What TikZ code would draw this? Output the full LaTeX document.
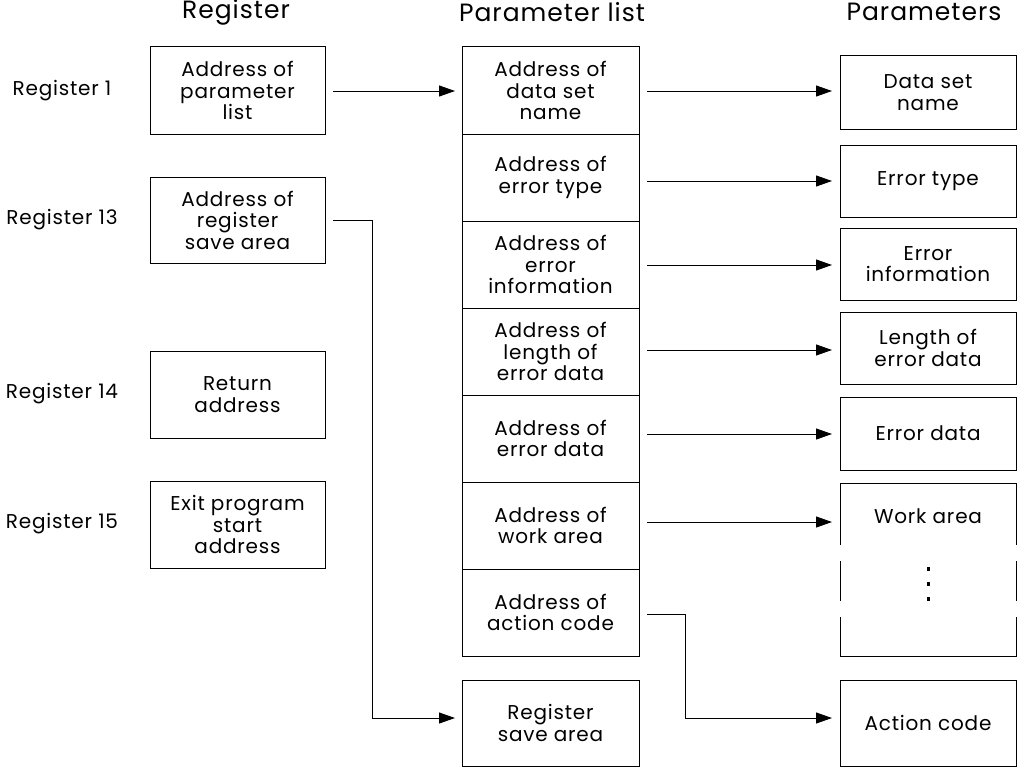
\documentclass[tikz,border=0pt]{standalone}
\usepackage{fontspec}
\setmainfont{Poppins}[LetterSpace=4]
\usetikzlibrary{arrows.meta}
\begin{document}
\begin{tikzpicture}[x=1pt,y=-1pt,
  bx/.style={draw,line width=1pt,align=center,font=\fontsize{20}{21.5}\selectfont,inner sep=0pt},
  lbl/.style={font=\fontsize{20}{21.5}\selectfont},
  hd/.style={font=\fontsize{25}{27}\selectfont},
  ar/.style={line width=1pt,-{Triangle[length=16pt,width=11pt]}}]
\useasboundingbox (0,0) rectangle (1024,768);
\newcommand\bxx[6]{\node[bx,minimum width=#3-#2,minimum height=#5-#4] (#1) at ({(#2+#3)/2},{(#4+#5)/2}) {#6};}
\node[hd] (h1) at (236,12) {Register};
\node[hd] (h2) at (552,12) {Parameter list};
\node[hd] (h3) at (924,12) {Parameters};
\node[lbl] (l1) at (62,91) {Register 1};
\node[lbl] (l13) at (62,220) {Register 13};
\node[lbl] (l14) at (62,394) {Register 14};
\node[lbl] (l15) at (62,524) {Register 15};
\bxx{r1}{150}{325}{47}{134}{Address of\\parameter\\list}
\bxx{r13}{150}{325}{177}{263}{Address of\\register\\save area}
\bxx{r14}{150}{325}{351}{438}{Return\\address}
\bxx{r15}{150}{325}{481}{568}{Exit program\\start\\address}
\bxx{p1}{462}{639}{47}{134}{Address of\\data set\\name}
\bxx{p2}{462}{639}{134}{221}{Address of\\error type}
\bxx{p3}{462}{639}{221}{308}{Address of\\error\\information}
\bxx{p4}{462}{639}{308}{395}{Address of\\length of\\error data}
\bxx{p5}{462}{639}{395}{482}{Address of\\error data}
\bxx{p6}{462}{639}{482}{569}{Address of\\work area}
\bxx{p7}{462}{639}{569}{656}{Address of\\action code}
\bxx{rs}{462}{639}{680}{766}{Register\\save area}
\bxx{q1}{840}{1016}{56}{129}{Data set\\name}
\bxx{q2}{840}{1016}{145}{217}{Error type}
\bxx{q3}{840}{1016}{228}{300}{Error\\information}
\bxx{q4}{840}{1016}{312}{384}{Length of\\error data}
\bxx{q5}{840}{1016}{397}{470}{Error data}
\bxx{qa}{840}{1016}{680}{766}{Action code}
% work area box with gaps
\coordinate (wa) at (840,483);
\node[lbl] (wt) at (928,516) {Work area};
\draw[line width=1pt] (840,545) -- (840,483) -- (1016,483) -- (1016,545);
\draw[line width=1pt] (840,561) -- (840,601) (1016,561) -- (1016,601);
\draw[line width=1pt] (840,617) -- (840,656) -- (1016,656) -- (1016,617);
\foreach \yy in {567,582,597} \fill (927,\yy) rectangle (930,\yy+4);
% arrows
\draw[ar] (333,91) -- (455,91);
\foreach \a/\b/\yy in {p1/q1/91,p2/q2/181,p3/q3/265,p4/q4/350,p5/q5/434,p6/wa/522}
  \draw[ar] (647,\yy) -- (832,\yy);
\draw[ar] (333,220) -- (372,220) -- (372,718) -- (455,718);
\draw[ar] (647,614) -- (685,614) -- (685,718) -- (832,718);
\end{tikzpicture}
\end{document}
